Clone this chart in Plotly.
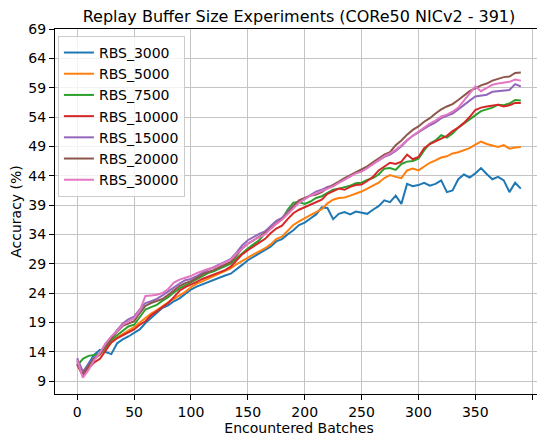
import plotly.graph_objects as go

batches = list(range(0, 391, 5))

rbs_3000 = [12.2, 10.5, 12.0, 13.5, 14.3, 14.0, 13.6, 15.4, 16.1, 16.6, 17.2, 17.8, 18.9, 19.8, 20.6, 21.5, 21.9, 22.6, 23.1, 23.9,
            24.6, 25.1, 25.5, 25.9, 26.3, 26.6, 27.0, 27.3, 28.0, 28.8, 29.6, 30.2, 30.8, 31.3, 31.9, 32.8, 33.2, 34.0, 34.7, 35.6,
            36.0, 36.7, 37.4, 38.6, 38.5, 36.6, 37.5, 37.8, 37.4, 37.9, 37.7, 37.5, 38.2, 38.8, 39.8, 39.5, 40.6, 39.2, 42.6, 42.2,
            42.4, 42.8, 42.3, 42.6, 43.2, 41.2, 41.5, 43.4, 44.2, 43.7, 44.4, 45.3, 44.3, 43.4, 43.8, 43.2, 41.2, 42.8, 41.8]
rbs_5000 = [12.5, 10.3, 11.5, 12.8, 13.5, 14.6, 15.6, 16.4, 17.0, 17.6, 18.2, 19.0, 19.8, 20.5, 21.1, 21.8, 22.4, 23.0, 23.6, 24.2,
            25.0, 25.6, 26.0, 26.5, 26.9, 27.3, 27.7, 28.2, 28.9, 29.5, 30.1, 30.6, 31.1, 31.6, 32.3, 33.2, 33.6, 34.6, 35.6, 36.2,
            36.8, 37.3, 37.8, 38.3, 39.3, 39.9, 40.2, 40.3, 40.6, 40.9, 41.3, 41.8, 42.3, 42.8, 43.6, 44.1, 43.8, 43.6, 44.9, 45.2,
            44.9, 45.6, 46.2, 46.6, 47.1, 47.3, 47.8, 48.0, 48.3, 48.7, 49.3, 49.8, 49.4, 49.2, 48.9, 49.2, 48.6, 48.8, 48.9]
rbs_7500 = [11.6, 12.8, 13.3, 13.4, 13.6, 14.8, 16.0, 16.8, 17.6, 18.3, 18.6, 20.0, 21.2, 21.6, 22.0, 22.7, 23.3, 24.1, 24.8, 25.3,
            25.8, 26.4, 26.9, 27.4, 27.7, 28.1, 28.6, 29.0, 29.9, 30.8, 31.6, 32.3, 33.0, 34.2, 35.0, 35.9, 36.6, 38.2, 39.4, 39.5,
            39.2, 39.6, 40.2, 40.5, 41.1, 41.6, 41.8, 42.0, 42.3, 42.7, 42.8, 43.3, 43.6, 44.2, 45.2, 45.3, 45.0, 46.0, 46.4, 46.5,
            46.9, 48.3, 49.5, 50.0, 50.9, 50.5, 51.2, 52.2, 52.9, 53.6, 54.3, 55.0, 55.3, 55.6, 56.1, 56.0, 56.3, 56.9, 56.8]
rbs_10000 = [11.8, 9.9, 11.2, 12.2, 12.8, 14.3, 15.6, 16.3, 16.8, 17.3, 17.8, 18.6, 19.2, 20.2, 20.9, 21.7, 22.3, 23.3, 24.4, 25.0,
             25.4, 25.9, 26.4, 26.8, 27.1, 27.5, 27.9, 28.5, 29.6, 30.6, 31.3, 32.0, 32.6, 33.2, 34.2, 35.0, 35.5, 36.6, 37.6, 38.2,
             38.6, 39.0, 39.5, 39.9, 40.9, 41.4, 41.8, 41.6, 42.1, 42.4, 42.5, 43.1, 43.8, 44.9, 45.6, 46.2, 46.0, 46.4, 47.6, 46.8,
             47.2, 48.7, 49.4, 49.9, 50.4, 50.8, 51.6, 52.2, 53.0, 54.0, 55.2, 55.6, 55.8, 56.0, 56.1, 55.8, 56.0, 56.4, 56.4]
rbs_15000 = [12.9, 10.6, 11.8, 13.0, 13.8, 15.4, 16.5, 17.6, 18.8, 19.5, 20.0, 21.2, 22.3, 22.6, 23.0, 23.6, 24.3, 25.0, 25.6, 26.2,
             26.4, 26.9, 27.5, 28.0, 28.4, 28.9, 29.4, 29.8, 30.9, 32.1, 33.0, 33.6, 34.1, 34.5, 35.4, 36.3, 36.8, 37.8, 38.9, 39.6,
             40.0, 40.7, 41.3, 41.6, 42.1, 42.3, 42.8, 43.4, 43.9, 44.5, 44.8, 45.4, 46.0, 46.7, 47.2, 47.6, 48.2, 49.0, 50.0, 50.8,
             51.4, 52.1, 52.6, 53.1, 53.8, 54.2, 54.6, 55.3, 56.1, 56.8, 57.5, 57.7, 57.8, 58.3, 58.4, 58.5, 58.6, 59.6, 59.2]
rbs_20000 = [11.9, 10.2, 11.6, 12.8, 13.6, 15.0, 16.3, 17.4, 18.4, 18.8, 19.2, 20.6, 21.8, 22.3, 22.6, 23.0, 23.7, 24.4, 25.2, 25.7,
             26.0, 26.6, 27.2, 27.6, 27.9, 28.4, 28.9, 29.3, 30.4, 31.6, 32.4, 33.0, 33.6, 34.2, 35.0, 35.9, 36.6, 37.6, 38.8, 39.8,
             40.2, 40.6, 40.8, 41.2, 41.9, 42.4, 43.0, 43.6, 44.1, 44.6, 45.0, 45.6, 46.3, 47.0, 47.6, 48.0, 49.2, 50.0, 51.0, 51.8,
             52.4, 53.2, 53.8, 54.6, 55.3, 55.8, 56.2, 56.9, 57.7, 58.4, 58.9, 59.4, 59.7, 60.2, 60.5, 60.8, 60.9, 61.5, 61.6]
rbs_30000 = [12.6, 9.6, 10.9, 12.6, 13.8, 15.4, 16.6, 17.5, 18.6, 19.2, 19.7, 21.0, 23.5, 23.6, 23.7, 24.0, 24.7, 25.8, 26.3, 26.6,
             26.9, 27.4, 27.8, 28.1, 28.3, 28.8, 29.3, 29.7, 30.7, 31.6, 32.4, 33.0, 33.5, 34.0, 34.9, 35.8, 36.5, 37.5, 38.5, 39.4,
             40.0, 40.6, 41.0, 41.4, 41.8, 42.2, 42.8, 43.4, 43.9, 44.4, 44.7, 45.3, 46.0, 46.7, 47.3, 47.8, 48.4, 49.2, 50.1, 50.8,
             51.5, 52.3, 52.9, 53.4, 54.1, 54.4, 54.9, 55.6, 56.8, 58.0, 59.2, 58.4, 58.9, 59.5, 59.7, 59.9, 60.0, 60.4, 60.2]

series_names = ["RBS_3000", "RBS_5000", "RBS_7500", "RBS_10000", "RBS_15000", "RBS_20000", "RBS_30000"]
series_values = [rbs_3000, rbs_5000, rbs_7500, rbs_10000, rbs_15000, rbs_20000, rbs_30000]
colors = ["#1f77b4", "#ff7f0e", "#2ca02c", "#d62728", "#9467bd", "#8c564b", "#e377c2"]

x_ticks = list(range(0, 401, 50))
y_ticks = list(range(9, 70, 5))

fig = go.Figure()
for name, vals, c in zip(series_names, series_values, colors):
    fig.add_trace(go.Scatter(x=batches, y=vals, mode="lines", name=name,
                             line=dict(color=c, width=2)))

# The page body adds an 8px offset, so the figure is 8px smaller than the window.
W, H = 537, 430
font_family = "DejaVu Sans"
fig.update_layout(
    width=W, height=H,
    margin=dict(l=47, r=2, t=21, b=44),
    paper_bgcolor="white", plot_bgcolor="white",
    font=dict(family=font_family, size=14, color="black"),
    title=dict(text="Replay Buffer Size Experiments (CORe50 NICv2 - 391)",
               x=(299 - 8) / W, xanchor="center", y=1 - 8 / H, yanchor="middle",
               font=dict(size=16, color="black")),
    legend=dict(x=0.006, y=0.981, xanchor="left", yanchor="top",
                bgcolor="rgba(255,255,255,0.8)", bordercolor="#cccccc", borderwidth=1,
                font=dict(size=14), tracegroupgap=0),
    showlegend=True,
)
fig.update_xaxes(range=[-19.5, 409.5], tickvals=x_ticks, showgrid=True, gridcolor="#c4c4c4", gridwidth=1,
                 showline=True, linecolor="black", linewidth=1, mirror=True,
                 ticks="outside", ticklen=5, tickcolor="black", zeroline=False,
                 title=dict(text="Encountered Batches", standoff=4, font=dict(size=14)))
fig.update_yaxes(range=[6.8, 69], tickvals=y_ticks, showgrid=True, gridcolor="#c4c4c4", gridwidth=1,
                 showline=True, linecolor="black", linewidth=1, mirror=True,
                 ticks="outside", ticklen=5, tickcolor="black", zeroline=False,
                 title=dict(text="Accuracy (%)", standoff=6, font=dict(size=14)))

fig.write_html("out.html")
